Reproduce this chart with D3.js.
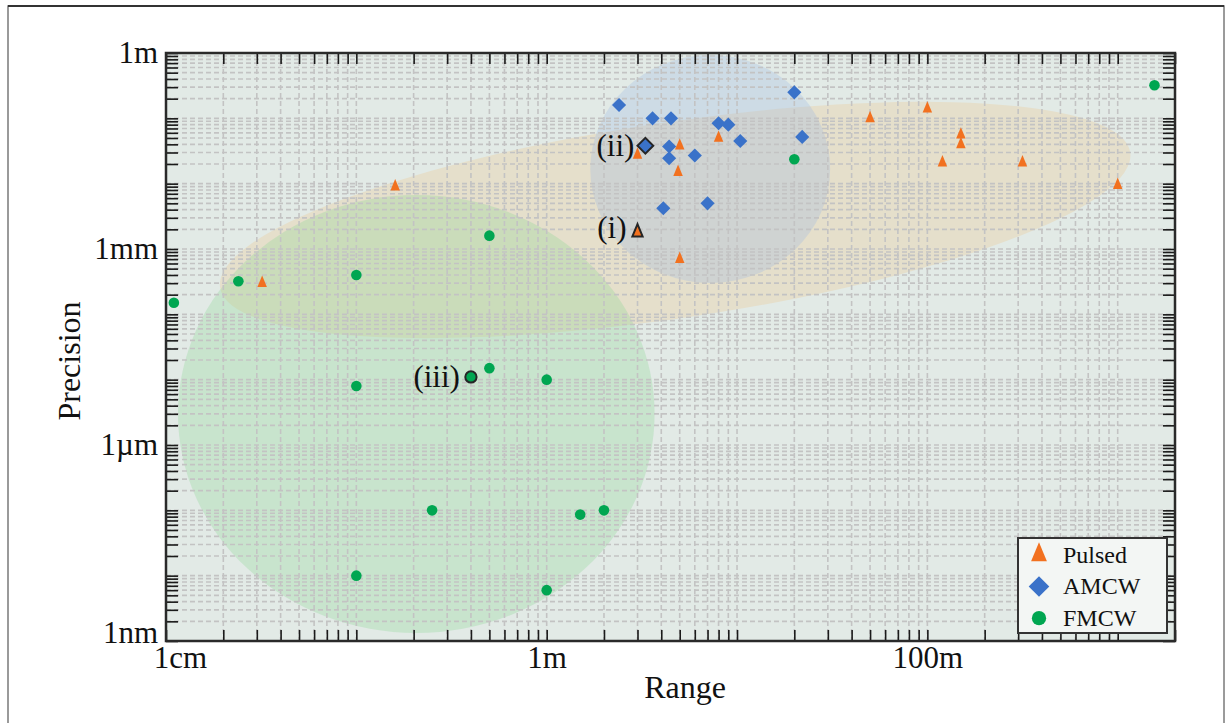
<!DOCTYPE html>
<html>
<head>
<meta charset="utf-8">
<script src="https://cdn.jsdelivr.net/npm/d3@7"></script>
<style>
  body { margin: 0; background: #fff; }
  text { font-family: "Liberation Serif", "Times New Roman", serif; fill: #111; }
</style>
</head>
<body>
<div id="chart"></div>
<script>
// All values in metres: range on x, precision on y.
const pulsedRange     = [0.032, 0.16, 3.0, 5.0, 4.9, 8.0, 5.0, 50, 100, 150, 150, 120, 316, 1000];
const pulsedPrecision = [3.0e-4, 9.0e-3, 0.0275, 0.038, 0.015, 0.05, 7.0e-4, 0.1, 0.14, 0.056, 0.04, 0.021, 0.021, 0.0095];

const amcwRange     = [2.4, 3.6, 4.5, 8.0, 9.0, 20, 22, 10.4, 4.4, 4.4, 6.0, 4.1, 7.0];
const amcwPrecision = [0.16, 0.1, 0.1, 0.084, 0.08, 0.25, 0.052, 0.045, 0.037, 0.0245, 0.027, 4.2e-3, 5.0e-3];

const fmcwRange     = [0.011, 0.024, 0.1, 0.5, 0.1, 0.5, 1.0, 0.25, 0.1, 1.5, 2.0, 1.0, 20, 1560];
const fmcwPrecision = [1.5e-4, 3.2e-4, 4.0e-4, 1.6e-3, 8.0e-6, 1.5e-5, 1.0e-5, 1.0e-7, 1.0e-8, 8.6e-8, 1.0e-7, 6.0e-9, 0.0236, 0.32];

// highlighted systems (i), (ii), (iii)
const highlightLabels    = ['(i)', '(ii)', '(iii)'];
const highlightType      = ['Pulsed', 'AMCW', 'FMCW'];
const highlightRange     = [3.0, 3.3, 0.4];
const highlightPrecision = [1.8e-3, 0.038, 1.1e-5];

// shaded regions: centre, half-extent in decades, tilt
const regionType       = ['Pulsed', 'FMCW', 'AMCW'];
const regionRange      = [4.73, 0.2065, 7.23];
const regionPrecision  = [2.78e-3, 2.98e-6, 0.01676];
const regionHalfXDec   = [2.417, 1.252, 0.63];
const regionHalfYDec   = [1.5, 3.352, 1.745];
const regionTilt       = [-8.44, 0, 0];

const xTickLabelValues = [0.01, 1, 100];
const xTickLabelText   = ['1cm', '1m', '100m'];
const yTickLabelValues = [1, 1e-3, 1e-6, 1e-9];
const yTickLabelText   = ['1m', '1mm', '1\u00b5m', '1nm'];

const legendNames = ['Pulsed', 'AMCW', 'FMCW'];

const colors = { Pulsed: '#f2711f', AMCW: '#3a72c9', FMCW: '#00a651' };
const regionFill = { Pulsed: '#e5dfcb', FMCW: 'rgba(140,214,150,0.3)', AMCW: 'rgba(154,185,228,0.3)' };

const width = 1227, height = 723;
const plot = { left: 166, right: 1175, top: 53, bottom: 641 };

const svg = d3.select('#chart').append('svg')
  .attr('width', width)
  .attr('height', height);

// outer figure frame
svg.append('rect')
  .attr('x', 8).attr('y', 6)
  .attr('width', 1216).attr('height', 740)
  .attr('fill', 'none')
  .attr('stroke', '#7a7a7a')
  .attr('stroke-width', 1.5);
svg.append('line')
  .attr('x1', 8).attr('x2', 1224).attr('y1', 6).attr('y2', 6)
  .attr('stroke', '#333').attr('stroke-width', 2);

const x = d3.scaleLog().domain([0.01, 2000]).range([plot.left, plot.right]);
const y = d3.scaleLog().domain([1e-9, 1]).range([plot.bottom, plot.top]);

svg.append('clipPath').attr('id', 'plotClip')
  .append('rect')
  .attr('x', plot.left).attr('y', plot.top)
  .attr('width', plot.right - plot.left).attr('height', plot.bottom - plot.top);

// background
svg.append('rect')
  .attr('x', plot.left).attr('y', plot.top)
  .attr('width', plot.right - plot.left).attr('height', plot.bottom - plot.top)
  .attr('fill', '#e2eae6');

// shaded regions
const regions = regionType.map((t, i) => {
  const cx = x(regionRange[i]), cy = y(regionPrecision[i]);
  return {
    type: t,
    cx: cx, cy: cy,
    rx: x(regionRange[i] * Math.pow(10, regionHalfXDec[i])) - cx,
    ry: cy - y(regionPrecision[i] * Math.pow(10, regionHalfYDec[i])),
    tilt: regionTilt[i]
  };
});

svg.append('g')
  .attr('clip-path', 'url(#plotClip)')
  .selectAll('ellipse')
  .data(regions)
  .enter()
  .append('ellipse')
  .attr('cx', d => d.cx)
  .attr('cy', d => d.cy)
  .attr('rx', d => d.rx)
  .attr('ry', d => d.ry)
  .attr('transform', d => 'rotate(' + d.tilt + ',' + d.cx + ',' + d.cy + ')')
  .attr('fill', d => regionFill[d.type]);

// dashed grid at every minor tick
const xGrid = x.ticks().filter(v => x(v) > plot.left + 1 && x(v) < plot.right - 1);
const yGrid = y.ticks().filter(v => y(v) > plot.top + 1 && y(v) < plot.bottom - 1);

const grid = svg.append('g')
  .attr('stroke', '#c3c3c3')
  .attr('stroke-width', 1.6)
  .attr('stroke-dasharray', '5,3');

grid.selectAll('.vgrid')
  .data(xGrid)
  .enter().append('line')
  .attr('class', 'vgrid')
  .attr('x1', d => x(d)).attr('x2', d => x(d))
  .attr('y1', plot.top).attr('y2', plot.bottom);

grid.selectAll('.hgrid')
  .data(yGrid)
  .enter().append('line')
  .attr('class', 'hgrid')
  .attr('x1', plot.left).attr('x2', plot.right)
  .attr('y1', d => y(d)).attr('y2', d => y(d));

// axes
const near = (a, b) => Math.abs(a / b - 1) < 1e-6;
const xFmt = v => { const i = xTickLabelValues.findIndex(t => near(t, v)); return i < 0 ? '' : xTickLabelText[i]; };
const yFmt = v => { const i = yTickLabelValues.findIndex(t => near(t, v)); return i < 0 ? '' : yTickLabelText[i]; };

const xAxisBottom = svg.append('g')
  .attr('transform', 'translate(0,' + plot.bottom + ')')
  .call(d3.axisBottom(x).tickValues(x.ticks()).tickSizeInner(-11).tickSizeOuter(0).tickPadding(5).tickFormat(xFmt));

const xAxisTop = svg.append('g')
  .attr('transform', 'translate(0,' + plot.top + ')')
  .call(d3.axisTop(x).tickValues(x.ticks()).tickSizeInner(-11).tickSizeOuter(0).tickFormat(''));

const yAxisLeft = svg.append('g')
  .attr('transform', 'translate(' + plot.left + ',0)')
  .call(d3.axisLeft(y).tickValues(y.ticks()).tickSizeInner(-12).tickSizeOuter(0).tickPadding(8).tickFormat(yFmt));

const yAxisRight = svg.append('g')
  .attr('transform', 'translate(' + plot.right + ',0)')
  .call(d3.axisRight(y).tickValues(y.ticks()).tickSizeInner(-12).tickSizeOuter(0).tickFormat(''));

[xAxisBottom, xAxisTop, yAxisLeft, yAxisRight].forEach(g => {
  g.select('.domain').remove();
  g.selectAll('.tick line').attr('stroke', '#1a1a1a').attr('stroke-width', 1.6);
  g.selectAll('.tick text')
    .attr('font-family', '"Liberation Serif", "Times New Roman", serif')
    .attr('font-size', 31)
    .attr('fill', '#111');
});

// 1cm label sits to the right of its tick, 1nm slightly raised
xAxisBottom.selectAll('.tick text').filter(d => near(d, 0.01)).attr('dx', 14);
yAxisLeft.selectAll('.tick text').filter(d => near(d, 1e-9)).attr('dy', '0.05em');

// plot frame
svg.append('rect')
  .attr('x', plot.left).attr('y', plot.top)
  .attr('width', plot.right - plot.left).attr('height', plot.bottom - plot.top)
  .attr('fill', 'none')
  .attr('stroke', '#2a2a2a')
  .attr('stroke-width', 2.5);

// symbols
const tallTriangle = {
  draw(ctx, size) {
    const w = Math.sqrt(size), h = w * 1.2;
    ctx.moveTo(0, -2 * h / 3);
    ctx.lineTo(w / 2, h / 3);
    ctx.lineTo(-w / 2, h / 3);
    ctx.closePath();
  }
};
const shape = {
  Pulsed: s => d3.symbol().type(tallTriangle).size(s)(),
  AMCW: s => d3.symbol().type(d3.symbolSquare).size(s)(),
  FMCW: s => d3.symbol().type(d3.symbolCircle).size(s)()
};
const rot = { Pulsed: 0, AMCW: 45, FMCW: 0 };
const plotSize = { Pulsed: 90, AMCW: 100, FMCW: 88 };

const points = [];
pulsedRange.forEach((r, i) => points.push({ type: 'Pulsed', r: r, p: pulsedPrecision[i] }));
amcwRange.forEach((r, i) => points.push({ type: 'AMCW', r: r, p: amcwPrecision[i] }));
fmcwRange.forEach((r, i) => points.push({ type: 'FMCW', r: r, p: fmcwPrecision[i] }));

svg.append('g')
  .selectAll('path')
  .data(points)
  .enter()
  .append('path')
  .attr('d', d => shape[d.type](plotSize[d.type]))
  .attr('transform', d => 'translate(' + x(d.r) + ',' + y(d.p) + ') rotate(' + rot[d.type] + ')')
  .attr('fill', d => colors[d.type]);

// highlighted points with outline and label
const highlights = highlightLabels.map((l, i) => ({ label: l, type: highlightType[i], r: highlightRange[i], p: highlightPrecision[i] }));
const hlSize = { Pulsed: 105, AMCW: 125, FMCW: 100 };

const hl = svg.append('g');
hl.selectAll('path')
  .data(highlights)
  .enter()
  .append('path')
  .attr('d', d => shape[d.type](hlSize[d.type]))
  .attr('transform', d => 'translate(' + x(d.r) + ',' + y(d.p) + ') rotate(' + rot[d.type] + ')')
  .attr('fill', d => colors[d.type])
  .attr('stroke', '#262626')
  .attr('stroke-width', 2);

hl.selectAll('text')
  .data(highlights)
  .enter()
  .append('text')
  .attr('x', d => x(d.r) - 11)
  .attr('y', d => y(d.p) - (d.type === 'Pulsed' ? 5 : 0))
  .attr('dy', '0.33em')
  .attr('text-anchor', 'end')
  .attr('font-size', 31)
  .text(d => d.label);

// axis titles
svg.append('text')
  .attr('transform', 'translate(80,361) rotate(-90)')
  .attr('text-anchor', 'middle')
  .attr('font-size', 32)
  .text('Precision');

svg.append('text')
  .attr('x', 685).attr('y', 698)
  .attr('text-anchor', 'middle')
  .attr('font-size', 32)
  .text('Range');

// legend
const legend = svg.append('g').attr('transform', 'translate(1018,538)');
legend.append('rect')
  .attr('width', 149).attr('height', 95)
  .attr('fill', '#f3f6f4')
  .attr('stroke', '#333')
  .attr('stroke-width', 2);

const legendSize = { Pulsed: 250, AMCW: 212, FMCW: 160 };
const legendRow = d3.scaleBand().domain(legendNames).range([0, 95]);

const items = legend.selectAll('.item')
  .data(legendNames)
  .enter().append('g')
  .attr('class', 'item')
  .attr('transform', d => 'translate(0,' + (legendRow(d) + legendRow.bandwidth() / 2 + 1) + ')');

items.append('path')
  .attr('d', d => shape[d](legendSize[d]))
  .attr('transform', d => 'translate(21,0) rotate(' + rot[d] + ')')
  .attr('fill', d => colors[d]);

items.append('text')
  .attr('x', 45)
  .attr('dy', '0.33em')
  .attr('font-size', 24)
  .text(d => d);
</script>
</body>
</html>
